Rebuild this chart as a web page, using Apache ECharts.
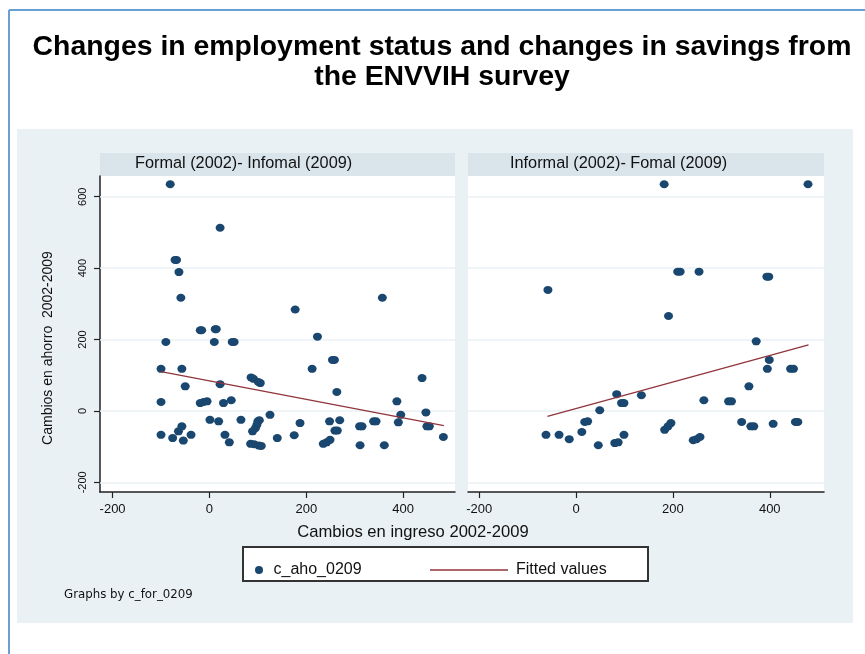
<!DOCTYPE html>
<html>
<head>
<meta charset="utf-8">
<script src="https://cdn.jsdelivr.net/npm/echarts@6/dist/echarts.min.js"></script>
<style>
  html, body { margin: 0; padding: 0; background: #ffffff; }
  #chart { width: 865px; height: 654px; }
</style>
</head>
<body>
<div id="chart"></div>
<script>
// Stata-style two-panel scatter (by c_for_0209) with fitted lines.

const PANEL_TITLES = ["Formal (2002)- Infomal (2009)", "Informal (2002)- Fomal (2009)"];
const X_TICKS = [-200, 0, 200, 400];
const Y_TICKS = [-200, 0, 200, 400, 600];

// Panel 1: Formal (2002) -> Informal (2009)
const formalInformalX = [
  -81, 22, -71, -68, -63, -59, 177, 357, -19, -16, 12, 14, 223, -90, 10, 47, 51,
  -100, -57, 212, 254, 258, 86, 91, 101, 105, 22, -50, 439, 263, -100, -19, -12,
  -5, 29, 45, 387, 395, 447, 125, 1, 19, 65, 100, 103, 98, 95, 89, 187, 248, 269,
  259, 264, 339, 344, 390, 310, 315, 449, 454, -57, -64, -54, -100, -76, -38, 32,
  41, 140, 175, 85, 92, 102, 107, 235, 242, 249, 311, 361, 483,
];
const formalInformalY = [
  635, 513, 423, 423, 389, 317, 284, 317, 226, 226, 229, 229, 208, 193, 193, 193, 193,
  118, 118, 118, 143, 143, 94, 90, 81, 78, 75, 69, 92, 53, 25, 22, 25,
  27, 22, 30, 27, -11, -4, -11, -25, -29, -25, -29, -26, -39, -48, -57, -34, -29, -26,
  -55, -55, -29, -29, -32, -43, -43, -43, -43, -43, -57, -83, -67, -76, -67, -67,
  -88, -76, -68, -92, -93, -97, -98, -92, -88, -81, -96, -96, -73,
];
const fitFormalInformalX = [-100, 484];
const fitFormalInformalY = [110, -41];

// Panel 2: Informal (2002) -> Formal (2009)
const informalFormalX = [
  182, 479, 210, 215, 254, 394, 398, -58, 191, 372, 399, 395, 443, 449, 357, 84, 135,
  94, 99, 264, 315, 321, 49, 18, 24, 12, -62, -35, -14, 46, 80, 87, 99, 183, 190,
  196, 242, 249, 256, 342, 361, 367, 407, 453, 458,
];
const informalFormalY = [
  635, 635, 390, 390, 390, 376, 376, 339, 266, 195, 143, 118, 118, 118, 69, 47, 44,
  22, 22, 30, 27, 27, 2, -31, -29, -59, -67, -67, -79, -96, -90, -88, -67, -53, -43,
  -34, -82, -79, -73, -31, -43, -43, -36, -31, -31,
];
const fitInformalFormalX = [-59, 480];
const fitInformalFormalY = [-15, 185];

const MARKER = "#1a476f";
const FIT = "#90353b";
const GRID_LINE = "#eaf2f3";
const TEXT = "#111111";
const FONT = "'Liberation Sans', Arial, sans-serif";

const zip = (xs, ys) => xs.map((x, i) => [x, ys[i]]);

const PLOT_TOP = 176;
const PLOT_H = 316;
const PANELS = [
  { left: 100, width: 355, xMin: -226, xMax: 507 },
  { left: 468, width: 356, xMin: -223, xMax: 512 },
];

const chart = echarts.init(document.getElementById("chart"), null, { renderer: "canvas" });

const grids = PANELS.map((p) => ({ left: p.left, top: PLOT_TOP, width: p.width, height: PLOT_H, containLabel: false }));

const xAxes = PANELS.map((p, i) => ({
  type: "value",
  gridIndex: i,
  min: p.xMin,
  max: p.xMax,
  splitLine: { show: false },
  axisLine: { show: true, onZero: false, lineStyle: { color: "#222", width: 1.5 } },
  axisTick: { show: true, customValues: X_TICKS, length: 6, lineStyle: { color: "#222", width: 1.2 } },
  axisLabel: { customValues: X_TICKS, color: TEXT, fontFamily: FONT, fontSize: 13, margin: 11 },
}));

const yAxes = PANELS.map((p, i) => ({
  type: "value",
  gridIndex: i,
  min: -227,
  max: 658,
  splitLine: { show: false },
  axisLine: { show: i === 0, onZero: false, lineStyle: { color: "#222", width: 1.5 } },
  axisTick: { show: i === 0, customValues: Y_TICKS, length: 6, lineStyle: { color: "#222", width: 1.2 } },
  axisLabel: {
    show: i === 0,
    customValues: Y_TICKS,
    rotate: 90,
    color: TEXT,
    fontFamily: FONT,
    fontSize: 11,
    margin: 12,
  },
}));

// Light horizontal gridlines at the y ticks, kept beneath the markers.
function gridLineSeries(i) {
  return {
    type: "scatter",
    xAxisIndex: i,
    yAxisIndex: i,
    data: [],
    silent: true,
    z: 1,
    markLine: {
      z: 1,
      silent: true,
      symbol: "none",
      label: { show: false },
      lineStyle: { color: GRID_LINE, width: 1.5, type: "solid" },
      data: Y_TICKS.map((v) => ({ yAxis: v })),
    },
  };
}

function scatterSeries(i, xs, ys) {
  return {
    name: "c_aho_0209",
    type: "scatter",
    xAxisIndex: i,
    yAxisIndex: i,
    symbol: "circle",
    symbolSize: [9, 8],
    itemStyle: { color: MARKER, opacity: 1 },
    z: 6,
    data: zip(xs, ys),
  };
}

function fitSeries(i, xs, ys) {
  return {
    name: "Fitted values",
    type: "line",
    xAxisIndex: i,
    yAxisIndex: i,
    symbol: "none",
    lineStyle: { color: FIT, width: 1.3 },
    itemStyle: { color: FIT },
    z: 7,
    data: zip(xs, ys),
  };
}

const stripGraphics = PANELS.map((p, i) => ({
  type: "group",
  children: [
    { type: "rect", shape: { x: p.left, y: 153, width: p.width, height: 23 }, style: { fill: "#d9e5eb" } },
    {
      type: "text",
      x: p.left + (i === 0 ? 35 : 42),
      y: 164,
      style: { text: PANEL_TITLES[i], fill: TEXT, font: `16.3px ${FONT}`, verticalAlign: "middle" },
    },
  ],
}));

chart.setOption({
  backgroundColor: "#ffffff",
  animation: false,
  title: {
    text: "Changes in employment status and changes in savings from\nthe ENVVIH survey",
    left: 437,
    top: 27,
    textAlign: "center",
    textStyle: { fontFamily: FONT, fontSize: 28.4, fontWeight: "bold", color: "#000", lineHeight: 30 },
  },
  graphic: [
    { type: "rect", z: -10, shape: { x: 17, y: 129, width: 836, height: 494 }, style: { fill: "#eaf1f4" } },
    { type: "line", shape: { x1: 9, y1: 10, x2: 865, y2: 10 }, style: { stroke: "#6a9fd6", lineWidth: 2 } },
    { type: "line", shape: { x1: 9, y1: 10, x2: 9, y2: 654 }, style: { stroke: "#6a9fd6", lineWidth: 2 } },
    ...stripGraphics,
    { type: "rect", shape: { x: 100, y: 176, width: 355, height: 316 }, style: { fill: "#ffffff" }, z: -5 },
    { type: "rect", shape: { x: 468, y: 176, width: 356, height: 316 }, style: { fill: "#ffffff" }, z: -5 },
    {
      type: "text",
      x: 48,
      y: 348,
      rotation: Math.PI / 2,
      style: { text: "Cambios en ahorro  2002-2009", fill: TEXT, font: `14px ${FONT}`, align: "center", verticalAlign: "middle" },
    },
    {
      type: "text",
      x: 413,
      y: 532,
      style: { text: "Cambios en ingreso 2002-2009", fill: TEXT, font: `16.6px ${FONT}`, align: "center", verticalAlign: "middle" },
    },
    {
      type: "rect",
      shape: { x: 243, y: 547, width: 405, height: 34 },
      style: { fill: "#ffffff", stroke: "#333", lineWidth: 2 },
    },
    {
      type: "text",
      x: 64,
      y: 595,
      style: { text: "Graphs by c_for_0209", fill: TEXT, font: `11.8px 'DejaVu Sans', sans-serif`, verticalAlign: "middle" },
    },
  ],
  legend: [
    {
      left: 250,
      top: 557,
      icon: "circle",
      itemWidth: 9,
      itemHeight: 8,
      data: [{ name: "c_aho_0209", itemStyle: { color: MARKER } }],
      textStyle: { fontFamily: FONT, fontSize: 16, color: TEXT, padding: [0, 0, 0, 5] },
      selectedMode: false,
      z: 10,
    },
    {
      left: 425,
      top: 557,
      icon: "rect",
      itemWidth: 78,
      itemHeight: 1.5,
      data: [{ name: "Fitted values", itemStyle: { color: FIT } }],
      textStyle: { fontFamily: FONT, fontSize: 16, color: TEXT, padding: [0, 0, 0, 3] },
      selectedMode: false,
      z: 10,
    },
  ],
  grid: grids,
  xAxis: xAxes,
  yAxis: yAxes,
  series: [
    gridLineSeries(0),
    gridLineSeries(1),
    scatterSeries(0, formalInformalX, formalInformalY),
    fitSeries(0, fitFormalInformalX, fitFormalInformalY),
    scatterSeries(1, informalFormalX, informalFormalY),
    fitSeries(1, fitInformalFormalX, fitInformalFormalY),
  ],
});
</script>
</body>
</html>
